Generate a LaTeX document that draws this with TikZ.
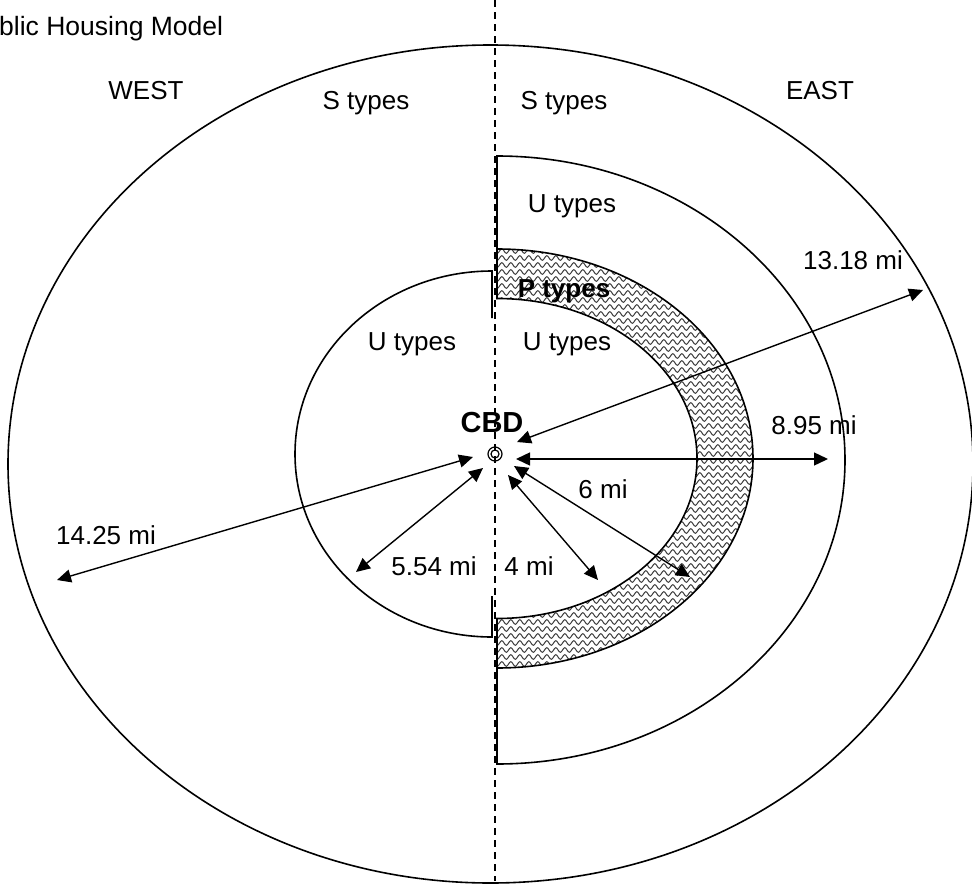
\documentclass[tikz,border=0pt]{standalone}
\usepackage{fontspec}
\setmainfont{Liberation Sans}
\usetikzlibrary{arrows.meta, decorations.pathmorphing}
\definecolor{ink}{HTML}{000000}
\definecolor{wavegray}{HTML}{3C3C3C}

\tikzset{
  lbl/.style={text=ink, font=\fontsize{26}{30}\selectfont, inner sep=0pt, anchor=base},
  boldlbl/.style={lbl, font=\fontsize{26}{30}\selectfont\bfseries},
  ring/.style={ink, line width=1.6pt},
  dist/.style={<->, ink, line width=1.4pt},
  wave/.style={wavegray, line width=1pt, decorate, decoration={snake, segment length=9pt, amplitude=2.3pt}},
}

\begin{document}
\begin{tikzpicture}[x=1pt, y=-1pt, >={Triangle[length=14pt, width=13pt]}]
\useasboundingbox (0,0) rectangle (972,886);

% Title
\node[lbl, anchor=base west, font=\fontsize{26.5}{30}\selectfont] (title) at (-1,35) {blic Housing Model};

% Outer ring (S types)
\draw[ring] (490.5,464) ellipse [x radius=482.5, y radius=419];

% --- West: inner U types half ---
\draw[ring] (492,318) -- (492,271) arc[start angle=270, end angle=90, x radius=197, y radius=183] -- (492,596);

% --- East: outer U types half ---
\draw[ring] (497,299) -- (497,156) arc[start angle=-90, end angle=90, x radius=348, y radius=304] -- (497,618);

% P types band: wavy fill
\begin{scope}
\clip (497,249) arc[start angle=-90, end angle=90, x radius=256, y radius=209.5] -- (497,618.5)
  arc[start angle=90, end angle=-90, x radius=200, y radius=160] -- cycle;
\foreach \y in {244,251,...,674}
  \draw[wave] (490,\y) -- (765,\y);
\end{scope}
\draw[ring] (497,249) arc[start angle=-90, end angle=90, x radius=256, y radius=209.5] -- (497,618.5)
  arc[start angle=90, end angle=-90, x radius=200, y radius=160] -- cycle;

% Divide line
\draw[ink, line width=1.6pt, dash pattern=on 7pt off 5pt] (495,0) -- (495,881);

% CBD mark
\node[circle, draw=ink, line width=1.2pt, minimum size=14pt, inner sep=0pt] (cbd) at (495,454) {};
\node[circle, draw=ink, line width=1.2pt, minimum size=8pt, inner sep=0pt] (cbdin) at (cbd) {};
\node[boldlbl, font=\fontsize{29}{32}\selectfont\bfseries] (cbdlbl) at (492,432) {CBD};

% Distance arrows
\coordinate (e1a) at (517,442);  \coordinate (e1b) at (923,290);
\coordinate (e2a) at (516,459);  \coordinate (e2b) at (828,459);
\coordinate (e3a) at (514,466);  \coordinate (e3b) at (690,577);
\coordinate (e4a) at (508,475);  \coordinate (e4b) at (598,580);
\coordinate (w1a) at (483,468);  \coordinate (w1b) at (356,572);
\coordinate (w2a) at (473,457);  \coordinate (w2b) at (57,580);
\draw[dist] (e1a) -- (e1b);
\draw[dist] (e2a) -- (e2b);
\draw[dist] (e3a) -- (e3b);
\draw[dist] (e4a) -- (e4b);
\draw[dist] (w1a) -- (w1b);
\draw[dist] (w2a) -- (w2b);

% Zone labels
\node[lbl] (west) at (146,99) {WEST};
\node[lbl] (east) at (820,99) {EAST};
\node[lbl] (swest) at (366,109) {S types};
\node[lbl] (seast) at (564,109) {S types};
\node[lbl] (ueast) at (572,212) {U types};
\node[boldlbl] (ptypes) at (564,297) {P types};
\node[lbl] (uwest) at (412,350) {U types};
\node[lbl] (uinner) at (567,350) {U types};

% Distance labels
\node[lbl] (d1) at (853,269) {13.18 mi};
\node[lbl] (d2) at (814,434) {8.95 mi};
\node[lbl] (d3) at (603,498) {6 mi};
\node[lbl] (d4) at (529,575) {4 mi};
\node[lbl] (d5) at (434,575) {5.54 mi};
\node[lbl] (d6) at (106,544) {14.25 mi};

\end{tikzpicture}
\end{document}
